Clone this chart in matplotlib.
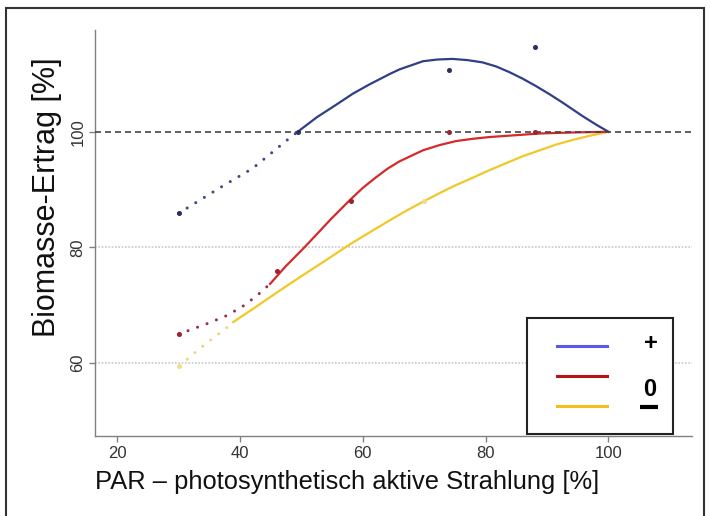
import matplotlib
matplotlib.use("Agg")
import matplotlib.pyplot as plt
from matplotlib.patches import Rectangle
from matplotlib.lines import Line2D

plt.rcParams['font.family'] = ['Liberation Sans', 'DejaVu Sans']

# --- Werte ---
blau_punkt_x = [30, 36.7, 42.1, 47.6, 49.4]
blau_punkt_y = [85.9, 90.3, 93.7, 98.5, 100]
blau_x = [49.4, 52.5, 55.7, 58.4, 61.1, 64.4, 66.0, 69.8, 72.2, 74.6, 77.0, 79.5,
          81.7, 83.9, 86.0, 88.2, 90.4, 92.6, 95.8, 97.9, 100]
blau_y = [100, 102.5, 104.7, 106.6, 108.2, 110.0, 110.8, 112.2, 112.5, 112.6, 112.4, 112.0,
          111.3, 110.3, 109.2, 107.9, 106.5, 105.0, 102.7, 101.3, 100]

rot_punkt_x = [30, 34.6, 37.6, 40.3, 42.8, 44.9]
rot_punkt_y = [65.0, 66.8, 68.1, 69.7, 71.7, 73.7]
rot_x = [44.9, 47.5, 50.3, 51.9, 54.9, 57.9, 60.0, 62.0, 64.0, 66.0, 69.8, 72.5, 75.2,
         78.0, 80.7, 83.4, 86.1, 88.8, 91.5, 95.0, 99.6]
rot_y = [73.7, 76.8, 79.8, 81.6, 85.0, 88.2, 90.3, 92.0, 93.6, 94.9, 96.8, 97.7, 98.4,
         98.8, 99.1, 99.3, 99.5, 99.7, 99.8, 99.9, 100]

gelb_punkt_x = [30.2, 32.4, 35.1, 37.6, 38.9]
gelb_punkt_y = [59.5, 61.6, 63.9, 65.9, 67.1]
gelb_x = [38.9, 42.0, 44.9, 47.4, 49.8, 53.0, 56.0, 58.0, 60.0, 62.2, 64.4, 67.0, 69.8,
          72.5, 75.2, 78.0, 80.7, 83.4, 86.1, 88.8, 91.5, 94.2, 96.9, 100]
gelb_y = [67.1, 69.3, 71.4, 73.2, 74.9, 77.1, 79.2, 80.6, 81.9, 83.3, 84.7, 86.3, 87.9,
          89.4, 90.8, 92.1, 93.4, 94.6, 95.8, 96.8, 97.8, 98.6, 99.3, 100]

# Messpunkte
blau_mess_x = [30, 49.5, 74, 88]
blau_mess_y = [86, 100, 110.6, 114.6]
rot_mess_x = [30, 46, 58, 74, 88]
rot_mess_y = [65, 76, 88, 100, 100]
gelb_mess_x = [30, 70]
gelb_mess_y = [59.5, 88]

x_ticks = [20, 40, 60, 80, 100]
y_ticks = [60, 80, 100]
legende_text = ["+", "0"]

W, H = 710, 516


def fx(px):
    return px / W


def fy(py):
    return 1 - py / H


fig = plt.figure(figsize=(7.1, 5.16), dpi=100)
ax = fig.add_axes([fx(95), fy(436), 597 / W, 406 / H])
ax.set_xlim(16.4, 113.6)
ax.set_ylim(47.4, 117.6)

# Hilfslinien
ax.axhline(60, color='#c8c8c8', lw=1.2, linestyle=(0, (1, 1)), zorder=1)
ax.axhline(80, color='#c8c8c8', lw=1.2, linestyle=(0, (1, 1)), zorder=1)
ax.axhline(100, color='#444444', lw=1.2, linestyle=(0, (3.6, 2.4)), zorder=4)

punkt_stil = dict(lw=2.2, dash_capstyle='round', zorder=2)
ax.plot(blau_punkt_x, blau_punkt_y, color='#3d4a85', linestyle=(0, (0.01, 3.3)), **punkt_stil)
ax.plot(rot_punkt_x, rot_punkt_y, color='#9a3050', linestyle=(0, (0.01, 3.3)), **punkt_stil)
ax.plot(gelb_punkt_x, gelb_punkt_y, color='#f1d677', linestyle=(0, (0.01, 3.3)), **punkt_stil)

ax.plot(gelb_x, gelb_y, color='#f0c828', lw=1.6, zorder=3)
ax.plot(rot_x, rot_y, color='#d42a2a', lw=1.6, zorder=3)
ax.plot(blau_x, blau_y, color='#2e3f86', lw=1.6, zorder=3)

ax.plot(blau_mess_x, blau_mess_y, 'o', ms=2.6, color='#2a3060', zorder=5)
ax.plot(rot_mess_x, rot_mess_y, 'o', ms=2.6, color='#a02030', zorder=5)
ax.plot(gelb_mess_x, gelb_mess_y, 'o', ms=2.6, color='#f3dc8a', zorder=5)

for s in ['top', 'right']:
    ax.spines[s].set_visible(False)
for s in ['left', 'bottom']:
    ax.spines[s].set_color('#808080')
    ax.spines[s].set_linewidth(1.0)

ax.set_xticks(x_ticks)
ax.set_yticks(y_ticks)
ax.tick_params(direction='out', length=4, width=1, color='#808080',
               labelcolor='#333333', labelsize=12, pad=3)
for lab in ax.get_yticklabels():
    lab.set_rotation(90)
    lab.set_va('center')

fig.text(fx(47), fy(197), 'Biomasse-Ertrag [%]', rotation=90, ha='center', va='center',
         fontsize=22, color='#111111')
fig.text(fx(95), fy(489), 'PAR \u2013 photosynthetisch aktive Strahlung [%]', ha='left',
         va='baseline', fontsize=18.4, color='#111111')

# Legende von Hand
fig.add_artist(Rectangle((fx(527), fy(434)), 146 / W, 116 / H, transform=fig.transFigure,
                         facecolor='white', edgecolor='#222222', lw=1.5, zorder=6))
for py, c in [(346, '#5a5ae6'), (376, '#b81414'), (406, '#f2c01e')]:
    fig.add_artist(Line2D([fx(557), fx(607)], [fy(py), fy(py)], color=c, lw=2.2,
                          transform=fig.transFigure, zorder=7))
fig.text(fx(651), fy(343), legende_text[0], ha='center', va='center', fontsize=17,
         fontweight='bold', zorder=7)
fig.text(fx(650), fy(390), legende_text[1], ha='center', va='center', fontsize=17,
         fontweight='bold', zorder=7)
fig.add_artist(Line2D([fx(640), fx(658)], [fy(407), fy(407)], color='black', lw=3,
                      solid_capstyle='butt', transform=fig.transFigure, zorder=7))

# Rahmen
fig.add_artist(Rectangle((fx(6), fy(530)), 698 / W, 522 / H, transform=fig.transFigure,
                         facecolor='none', edgecolor='#333333', lw=1.5, zorder=8,
                         clip_on=False))

fig.savefig('out.png', dpi=100)
